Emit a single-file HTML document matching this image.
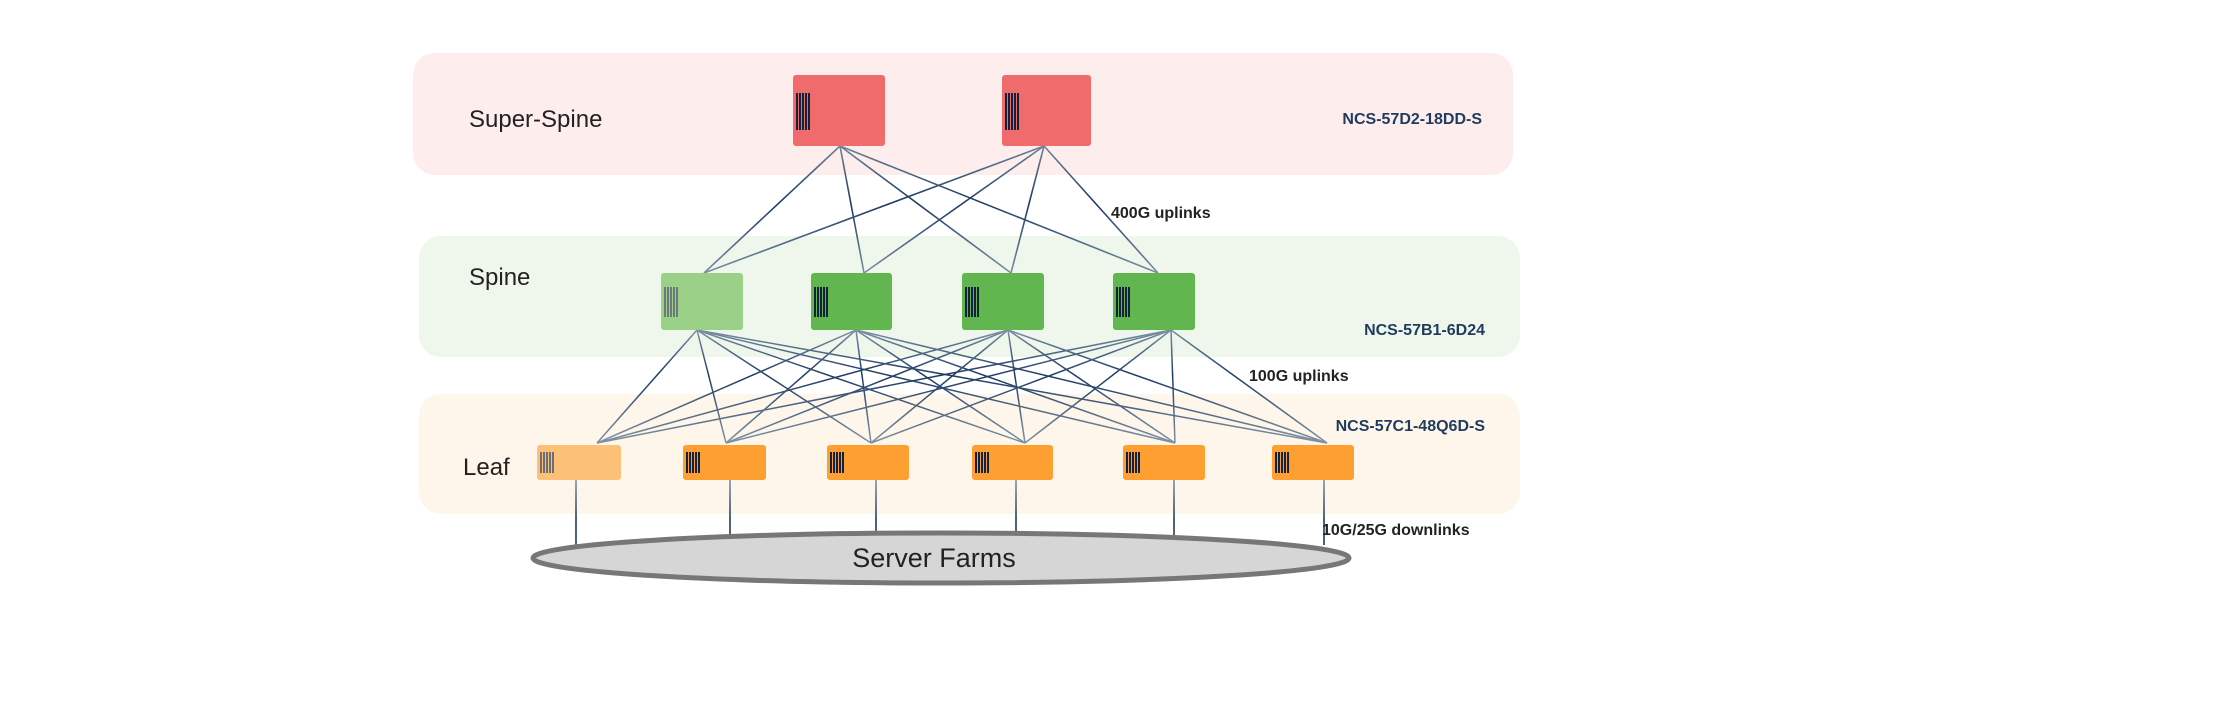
<!DOCTYPE html>
<html><head><meta charset="utf-8"><style>
html,body{margin:0;padding:0;background:#fff;}
svg{display:block;}
text{font-family:"Liberation Sans",sans-serif;}
</style></head><body>
<svg width="2228" height="704" viewBox="0 0 2228 704" xmlns="http://www.w3.org/2000/svg">
<defs>
<linearGradient id="g1" gradientUnits="userSpaceOnUse" x1="0" y1="146" x2="0" y2="273">
<stop offset="0" stop-color="#6f8599"/><stop offset="0.45" stop-color="#1f3b63"/><stop offset="1" stop-color="#7a90a2"/></linearGradient>
<linearGradient id="g2" gradientUnits="userSpaceOnUse" x1="0" y1="330" x2="0" y2="443">
<stop offset="0" stop-color="#7a90a2"/><stop offset="0.4" stop-color="#1f3b63"/><stop offset="1" stop-color="#7f93a3"/></linearGradient>
<linearGradient id="g3" gradientUnits="userSpaceOnUse" x1="0" y1="480" x2="0" y2="545">
<stop offset="0" stop-color="#8090a0"/><stop offset="0.6" stop-color="#1f3b63"/><stop offset="1" stop-color="#1f3b63"/></linearGradient>
</defs>
<rect x="413" y="53" width="1100" height="122" rx="22" fill="#fdeeed"/>
<rect x="419" y="236" width="1101" height="121" rx="22" fill="#eff7ec"/>
<rect x="419" y="394" width="1101" height="120" rx="22" fill="#fef6ea"/>

<g stroke="url(#g1)" stroke-width="1.6">
<line x1="840" y1="146" x2="704" y2="273"/><line x1="840" y1="146" x2="864" y2="273"/><line x1="840" y1="146" x2="1011" y2="273"/><line x1="840" y1="146" x2="1158" y2="273"/>
<line x1="1044" y1="146" x2="704" y2="273"/><line x1="1044" y1="146" x2="864" y2="273"/><line x1="1044" y1="146" x2="1011" y2="273"/><line x1="1044" y1="146" x2="1158" y2="273"/>
</g>
<g stroke="url(#g2)" stroke-width="1.5">
<line x1="697" y1="330" x2="597" y2="443"/><line x1="697" y1="330" x2="726" y2="443"/><line x1="697" y1="330" x2="871" y2="443"/><line x1="697" y1="330" x2="1025" y2="443"/><line x1="697" y1="330" x2="1175" y2="443"/><line x1="697" y1="330" x2="1327" y2="443"/>
<line x1="856" y1="330" x2="597" y2="443"/><line x1="856" y1="330" x2="726" y2="443"/><line x1="856" y1="330" x2="871" y2="443"/><line x1="856" y1="330" x2="1025" y2="443"/><line x1="856" y1="330" x2="1175" y2="443"/><line x1="856" y1="330" x2="1327" y2="443"/>
<line x1="1008" y1="330" x2="597" y2="443"/><line x1="1008" y1="330" x2="726" y2="443"/><line x1="1008" y1="330" x2="871" y2="443"/><line x1="1008" y1="330" x2="1025" y2="443"/><line x1="1008" y1="330" x2="1175" y2="443"/><line x1="1008" y1="330" x2="1327" y2="443"/>
<line x1="1171" y1="330" x2="597" y2="443"/><line x1="1171" y1="330" x2="726" y2="443"/><line x1="1171" y1="330" x2="871" y2="443"/><line x1="1171" y1="330" x2="1025" y2="443"/><line x1="1171" y1="330" x2="1175" y2="443"/><line x1="1171" y1="330" x2="1327" y2="443"/>
</g>
<g stroke="url(#g3)" stroke-width="1.6">
<line x1="576" y1="480" x2="576" y2="545"/><line x1="730" y1="480" x2="730" y2="540"/><line x1="876" y1="480" x2="876" y2="535"/><line x1="1016" y1="480" x2="1016" y2="535"/><line x1="1174" y1="480" x2="1174" y2="540"/><line x1="1324" y1="480" x2="1324" y2="545"/>
</g>

<rect x="793" y="75" width="92" height="71" rx="3" fill="#f06b6b"/>
<rect x="1002" y="75" width="89" height="71" rx="3" fill="#f06b6b"/>
<rect x="661" y="273" width="82" height="57" rx="3" fill="#9bd088"/>
<rect x="811" y="273" width="81" height="57" rx="3" fill="#62b64f"/>
<rect x="962" y="273" width="82" height="57" rx="3" fill="#62b64f"/>
<rect x="1113" y="273" width="82" height="57" rx="3" fill="#62b64f"/>
<rect x="537" y="445" width="84" height="35" rx="3" fill="#fdc077"/>
<rect x="683" y="445" width="83" height="35" rx="3" fill="#fd9f31"/>
<rect x="827" y="445" width="82" height="35" rx="3" fill="#fd9f31"/>
<rect x="972" y="445" width="81" height="35" rx="3" fill="#fd9f31"/>
<rect x="1123" y="445" width="82" height="35" rx="3" fill="#fd9f31"/>
<rect x="1272" y="445" width="82" height="35" rx="3" fill="#fd9f31"/>

<g stroke-width="2">
<g stroke="#14213a"><path d="M797 93v37M800 93v37M803 93v37M806 93v37M809 93v37"/>
<path d="M1006 93v37M1009 93v37M1012 93v37M1015 93v37M1018 93v37"/></g>
<g stroke="#6d7a7a"><path d="M665 287v30M668 287v30M671 287v30M674 287v30M677 287v30"/></g>
<g stroke="#14213a"><path d="M815 287v30M818 287v30M821 287v30M824 287v30M827 287v30"/>
<path d="M966 287v30M969 287v30M972 287v30M975 287v30M978 287v30"/>
<path d="M1117 287v30M1120 287v30M1123 287v30M1126 287v30M1129 287v30"/></g>
<g stroke="#6d6d72"><path d="M541 452v21M544 452v21M547 452v21M550 452v21M553 452v21"/></g>
<g stroke="#14213a"><path d="M687 452v21M690 452v21M693 452v21M696 452v21M699 452v21"/>
<path d="M831 452v21M834 452v21M837 452v21M840 452v21M843 452v21"/>
<path d="M976 452v21M979 452v21M982 452v21M985 452v21M988 452v21"/>
<path d="M1127 452v21M1130 452v21M1133 452v21M1136 452v21M1139 452v21"/>
<path d="M1276 452v21M1279 452v21M1282 452v21M1285 452v21M1288 452v21"/></g>
</g>

<ellipse cx="941" cy="558" rx="408" ry="25" fill="#d6d6d6" stroke="#777" stroke-width="5"/>
<text x="934" y="567" font-size="27" text-anchor="middle" fill="#222">Server Farms</text>

<text x="469" y="127" font-size="24" fill="#222">Super-Spine</text>
<text x="469" y="285" font-size="24" fill="#222">Spine</text>
<text x="463" y="475" font-size="24" fill="#222">Leaf</text>

<g font-size="16" font-weight="bold" fill="#1f3b5e" text-anchor="end">
<text x="1482" y="124">NCS-57D2-18DD-S</text>
<text x="1485" y="335">NCS-57B1-6D24</text>
<text x="1485" y="431">NCS-57C1-48Q6D-S</text>
</g>
<g font-size="16" font-weight="bold" fill="#222">
<text x="1111" y="218">400G uplinks</text>
<text x="1249" y="381">100G uplinks</text>
<text x="1322" y="535">10G/25G downlinks</text>
</g>
</svg>
</body></html>
